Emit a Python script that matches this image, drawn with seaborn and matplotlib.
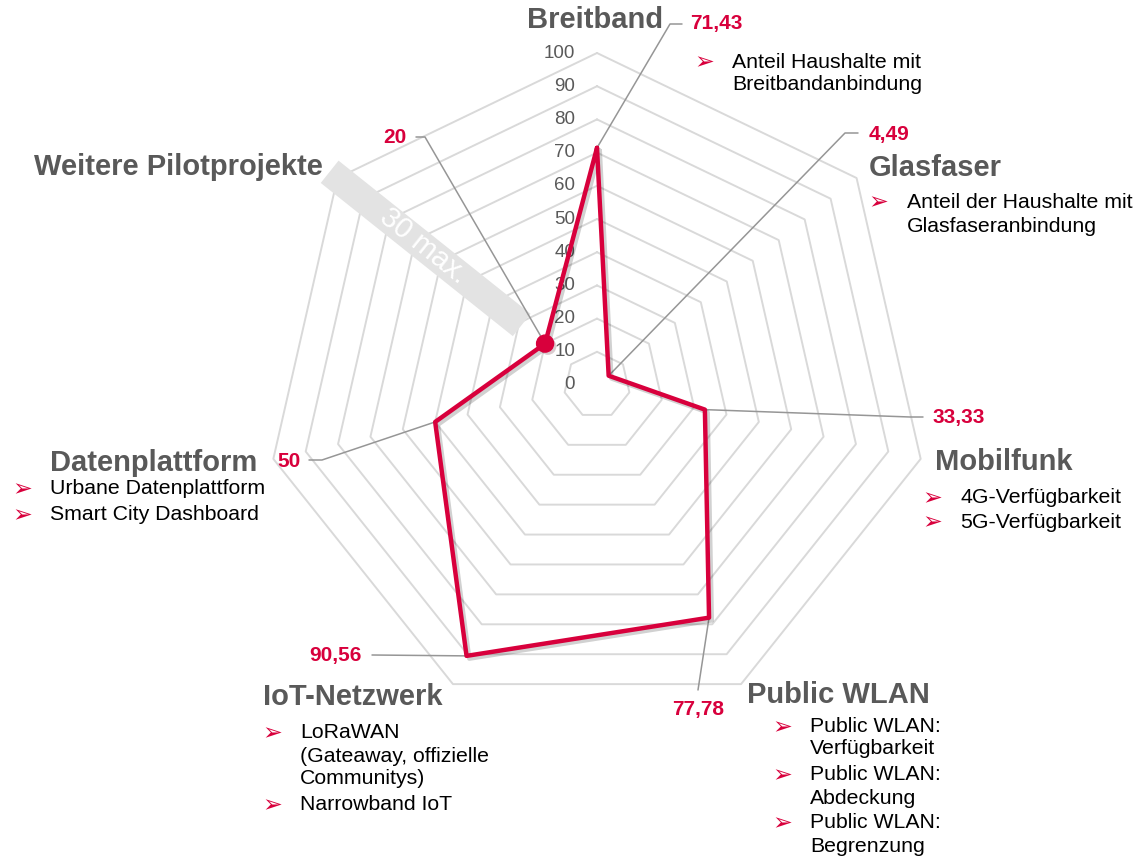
import numpy as np
import matplotlib
matplotlib.use("Agg")
import matplotlib.pyplot as plt
import matplotlib.patheffects as pe
from matplotlib.patches import Polygon
import seaborn as sns

categories = ["Breitband", "Glasfaser", "Mobilfunk", "Public WLAN",
              "IoT-Netzwerk", "Datenplattform", "Weitere Pilotprojekte"]
values = [71.43, 4.49, 33.33, 77.78, 90.56, 50, 20]
value_labels = ["71,43", "4,49", "33,33", "77,78", "90,56", "50", "20"]
ticks = [0, 10, 20, 30, 40, 50, 60, 70, 80, 90, 100]
bullets = [
    [["Anteil Haushalte mit", "Breitbandanbindung"]],
    [["Anteil der Haushalte mit", "Glasfaseranbindung"]],
    [["4G-Verfügbarkeit"], ["5G-Verfügbarkeit"]],
    [["Public WLAN:", "Verfügbarkeit"], ["Public WLAN:", "Abdeckung"],
     ["Public WLAN:", "Begrenzung"]],
    [["LoRaWAN", "(Gateaway, offizielle", "Communitys)"], ["Narrowband IoT"]],
    [["Urbane Datenplattform"], ["Smart City Dashboard"]],
    [],
]
band_text = "30 max."

RED = "#d8003c"
GREY = "#595959"
GRID = "#d9d9d9"
LEADER = "#969696"

sns.set_theme(style="white")
plt.rcParams["font.family"] = ["Liberation Sans", "DejaVu Sans"]

W, H = 1137, 858
CX, CY, S = 597, 385, 3.32  # centre in px, px per unit


def P(x, y):
    return (x - CX) / S, (CY - y) / S


fig = plt.figure(figsize=(W / 100, H / 100), dpi=100)
ax = fig.add_axes([0, 0, 1, 1])
ax.set_xlim(-CX / S, (W - CX) / S)
ax.set_ylim(-(H - CY) / S, CY / S)
ax.set_aspect("equal")
ax.axis("off")

n = len(categories)
ang = np.arange(n) * 2 * np.pi / n
ux, uy = np.sin(ang), np.cos(ang)

# heptagon grid
for t in ticks[1:]:
    ax.plot(np.append(ux, ux[0]) * t, np.append(uy, uy[0]) * t,
            color=GRID, lw=1.4, zorder=1)

# tick labels
for t in ticks:
    x, _ = P(575, 0)
    ax.text(x, t, str(t), ha="right", va="center", fontsize=13.5,
            color=GREY, zorder=2)

# grey band on last axis
a = ang[-1]
d = np.array([np.sin(a), np.cos(a)])
nrm = np.array([-d[1], d[0]])
hw = 4.3
r0, r1 = 29, 103
corners = [d * r0 + nrm * hw, d * r1 + nrm * hw, d * r1 - nrm * hw, d * r0 - nrm * hw]
ax.add_patch(Polygon(corners, closed=True, color="#e3e3e3", lw=0, zorder=3))
tx, ty = d * 67
ax.text(tx, ty, band_text, rotation=np.degrees(np.arctan2(d[1], d[0])) - 180,
        rotation_mode="anchor", ha="center", va="center", fontsize=21,
        color="white", zorder=4)

# data polygon
px_ = np.array(values) * ux
py_ = np.array(values) * uy
shadow = [pe.SimpleLineShadow(offset=(2, -2), alpha=0.18, shadow_color="black"),
          pe.Normal()]
sns.lineplot(x=np.append(px_, px_[0]), y=np.append(py_, py_[0]), sort=False,
             estimator=None, color=RED, lw=3.2, ax=ax, zorder=6,
             path_effects=shadow)
ax.scatter([px_[-1]], [py_[-1]], s=150, color=RED, zorder=7,
           path_effects=[pe.SimplePatchShadow(offset=(2, -2), alpha=0.2), pe.Normal()])

# layout of labels (px positions)
layout = [
    dict(elbow=(670, 24), end=(682, 24), vpos=(690, 24), vha="left",
         tpos=(663, 20), tha="right", bx=704, tx=732, ys=[[62, 85]]),
    dict(elbow=(845, 133), end=(858, 133), vpos=(869, 135), vha="left",
         tpos=(869, 168), tha="left", bx=878, tx=907, ys=[[202, 226]]),
    dict(elbow=(910, 417), end=(923, 417), vpos=(932, 418), vha="left",
         tpos=(935, 462), tha="left", bx=932, tx=960, ys=[[498], [522]]),
    dict(elbow=(698, 690), end=(698, 690), vpos=(698, 710), vha="center",
         tpos=(747, 695), tha="left", bx=782, tx=810,
         ys=[[727, 749], [775, 798], [823, 847]]),
    dict(elbow=(372, 655), end=(372, 655), vpos=(362, 655), vha="right",
         tpos=(263, 697), tha="left", bx=272, tx=300,
         ys=[[733, 757, 779], [805]]),
    dict(elbow=(322, 460), end=(309, 460), vpos=(277, 462), vha="left",
         tpos=(50, 463), tha="left", bx=22, tx=50, ys=[[489], [515]]),
    dict(elbow=(425, 137), end=(416, 137), vpos=(406, 138), vha="right",
         tpos=(323, 167), tha="right", bx=0, tx=0, ys=[]),
]

for i, L in enumerate(layout):
    ex, ey = P(*L["elbow"])
    fx, fy = P(*L["end"])
    ax.plot([px_[i], ex, fx], [py_[i], ey, fy], color=LEADER, lw=1.1, zorder=5)
    vx, vy = P(*L["vpos"])
    ax.text(vx, vy, value_labels[i], ha=L["vha"], va="center", fontsize=15,
            fontweight="bold", color=RED, zorder=8)
    tx_, ty_ = P(*L["tpos"])
    ax.text(tx_, ty_, categories[i], ha=L["tha"], va="center", fontsize=21,
            fontweight="bold", color=GREY, zorder=8)
    for lines, ys in zip(bullets[i], L["ys"]):
        bx, by = P(L["bx"], ys[0])
        ax.text(bx, by, "\u27a2", ha="center", va="center", fontsize=17,
                color=RED, family="DejaVu Sans", zorder=8)
        for line, yy in zip(lines, ys):
            lx, ly = P(L["tx"], yy)
            ax.text(lx, ly, line, ha="left", va="center", fontsize=15.3,
                    color="black", zorder=8)

fig.savefig("out.png", dpi=100, facecolor="white")
